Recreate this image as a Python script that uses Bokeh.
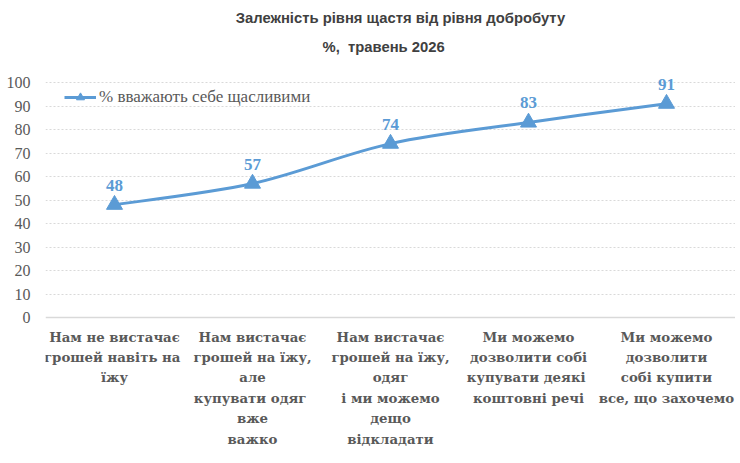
from bokeh.plotting import figure
from bokeh.models import Range1d, FixedTicker, Legend, LegendItem, ColumnDataSource, Span
from bokeh.core.properties import value
from bokeh.embed import file_html
from bokeh.resources import INLINE

categories = [
    "Нам не вистачає\nгрошей навіть  на\nїжу",
    "Нам вистачає\nгрошей на їжу,\nале\nкупувати  одяг\nвже\nважко",
    "Нам вистачає\nгрошей на їжу,\nодяг\nі ми можемо\nдещо\nвідкладати",
    "Ми можемо\nдозволити собі\nкупувати  деякі\nкоштовні речі",
    "Ми можемо\nдозволити\nсобі купити\nвсе, що захочемо",
]
happy = [48, 57, 74, 83, 91]
series_name = "% вважають себе щасливими"
title1 = "Залежність рівня щастя від рівня добробуту"
title2 = "%,\u00a0 травень 2026"
yticks = [0, 10, 20, 30, 40, 50, 60, 70, 80, 90, 100]

BLUE = "#5b9bd5"
GREY = "#595959"
SERIF = "'Liberation Serif'"

xs = list(range(len(happy)))

# layout: 2.35 px per percentage point; frame spans the whole figure height
H = 460
PX = 2.35
ZERO_PX = 317  # distance of the 0-line from the top
p = figure(width=735, height=H, output_backend="svg", toolbar_location=None,
           x_range=Range1d(-0.5, len(happy) - 0.5),
           y_range=Range1d(-(H - ZERO_PX) / PX, ZERO_PX / PX),
           min_border_left=45, min_border_right=0, min_border_top=0, min_border_bottom=0)
p.outline_line_color = None
p.background_fill_color = "white"

# grid + baseline
p.xgrid.grid_line_color = None
p.ygrid.ticker = FixedTicker(ticks=yticks[1:])
p.ygrid.grid_line_color = "#d9d9d9"
p.ygrid.grid_line_dash = "2 2"
p.add_layout(Span(location=0, dimension="width", line_color="#d9d9d9", line_width=1.5))

# smooth line (Catmull-Rom -> cubic bezier through the data points)
x0, y0, x1, y1, cx0, cy0, cx1, cy1 = [], [], [], [], [], [], [], []
n = len(happy)
for i in range(n - 1):
    pa = (xs[max(i - 1, 0)], happy[max(i - 1, 0)])
    pb = (xs[i], happy[i])
    pc = (xs[i + 1], happy[i + 1])
    pd = (xs[min(i + 2, n - 1)], happy[min(i + 2, n - 1)])
    x0.append(pb[0]); y0.append(pb[1]); x1.append(pc[0]); y1.append(pc[1])
    cx0.append(pb[0] + (pc[0] - pa[0]) / 6); cy0.append(pb[1] + (pc[1] - pa[1]) / 6)
    cx1.append(pc[0] - (pd[0] - pb[0]) / 6); cy1.append(pc[1] - (pd[1] - pb[1]) / 6)
p.bezier(x0=x0, y0=y0, x1=x1, y1=y1, cx0=cx0, cy0=cy0, cx1=cx1, cy1=cy1,
         line_color=BLUE, line_width=3)

src = ColumnDataSource(dict(x=xs, y=happy, lbl=[str(v) for v in happy],
                            cat=categories, zero=[0] * len(happy)))
r_pts = p.scatter("x", "y", source=src, marker="triangle", size=16,
                  fill_color=BLUE, line_color=BLUE)
p.text("x", "y", text="lbl", source=src, text_align="center", text_baseline="bottom",
       y_offset=-14, text_color=BLUE, text_font_size="17px", text_font_style="bold",
       text_font=value(SERIF))

# category labels under the baseline
p.text("x", "zero", text="cat", source=src, text_align="center", text_baseline="top",
       y_offset=12, text_color=GREY, text_font_size="13.3px", text_font_style="bold",
       text_line_height=1.36, text_font=value("DejaVu Serif"))

# titles (text in data space above the gridded area)
p.text(x=[2.072], y=[127.3], text=[title1], text_align="center", text_baseline="middle",
       text_font=value("Liberation Sans"), text_font_style="bold", text_font_size="14.8px",
       text_color="#404040")
p.text(x=[1.95], y=[115.0], text=[title2], text_align="center", text_baseline="middle",
       text_font=value("Liberation Sans"), text_font_style="bold", text_font_size="14.8px",
       text_color="#404040")

# legend
r_leg_line = p.line(x=[xs[0], xs[0]], y=[happy[0], happy[0]], line_color=BLUE, line_width=3, visible=False)
legend = Legend(items=[LegendItem(label=series_name, renderers=[r_leg_line, r_pts])],
                location=(19, 353), orientation="horizontal")
legend.background_fill_alpha = 0
legend.border_line_color = None
legend.label_text_font = "Liberation Serif"
legend.label_text_font_size = "17px"
legend.label_text_color = GREY
legend.glyph_width = 32
legend.label_standoff = 3
legend.padding = 2
legend.margin = 0
p.add_layout(legend)

# axes
p.xaxis.visible = False
p.yaxis.ticker = FixedTicker(ticks=yticks)
p.yaxis.major_label_text_font = "Liberation Serif"
p.yaxis.major_label_text_font_size = "16px"
p.yaxis.major_label_text_color = GREY
p.yaxis.major_tick_line_color = None
p.yaxis.minor_tick_line_color = None
p.yaxis.axis_line_color = None
p.yaxis.major_label_standoff = 9

open("out.html", "w").write(file_html(p, INLINE))
